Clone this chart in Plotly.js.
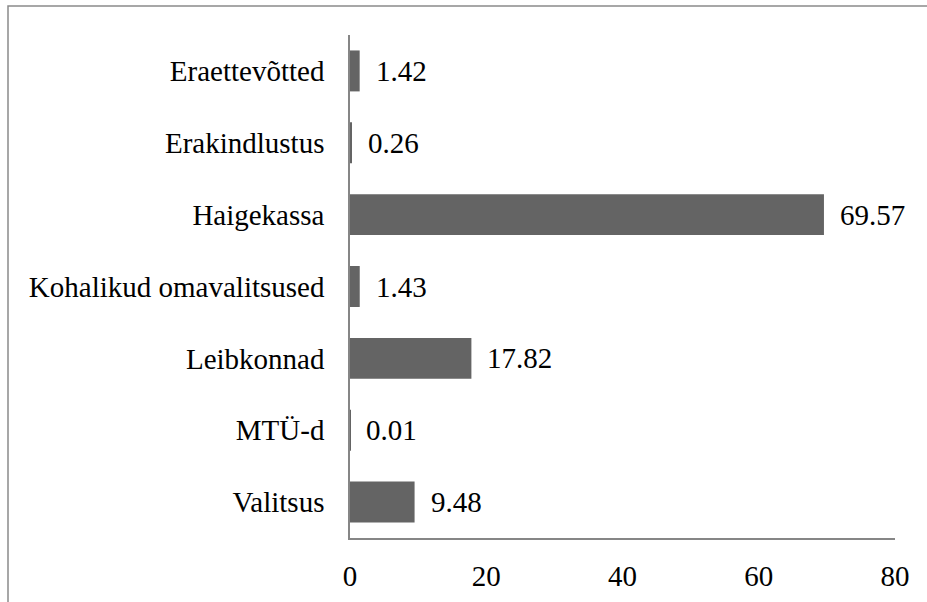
<!DOCTYPE html>
<html>
<head>
<meta charset="utf-8">
<script src="https://cdn.plot.ly/plotly-3.0.1.min.js"></script>
<style>
html,body{margin:0;padding:0;background:#fff;}
#chart text {
  font-family: "Liberation Serif", "Times New Roman", Tinos, serif !important;
}
</style>
</head>
<body>
<div id="chart"></div>
<script>
const categories = ["Eraettevõtted", "Erakindlustus", "Haigekassa", "Kohalikud omavalitsused", "Leibkonnad", "MTÜ-d", "Valitsus"];
const values = [1.42, 0.26, 69.57, 1.43, 17.82, 0.01, 9.48];
const tickVals = [0, 20, 40, 60, 80];
const tickText = ["0", "20", "40", "60", "80"];

const trace = {
  type: "bar",
  orientation: "h",
  x: values,
  y: categories,
  marker: {color: "#646464"},
  width: 0.57,
  hoverinfo: "none"
};

const annotations = values.map((v, i) => ({
  x: v, y: categories[i], xref: "x", yref: "y",
  text: v.toFixed(2), showarrow: false,
  xanchor: "left", yanchor: "middle", xshift: 14
}));

const layout = {
  width: 927, height: 602,
  margin: {l: 350, r: 32, t: 35, b: 64, pad: 0},
  font: {family: "Times New Roman", size: 29, color: "#000000"},
  showlegend: false,
  xaxis: {
    range: [0, 80], tickvals: tickVals, ticktext: tickText,
    showgrid: false, zeroline: false, showline: true,
    linecolor: "#868686", linewidth: 1.5, ticks: "",
    ticklabelstandoff: 11, fixedrange: true
  },
  yaxis: {
    type: "category", categoryorder: "array", categoryarray: categories,
    autorange: "reversed",
    showgrid: false, zeroline: false, showline: true,
    linecolor: "#868686", linewidth: 1.5, ticks: "",
    ticklabelstandoff: 18, fixedrange: true
  },
  annotations: annotations,
  shapes: [{
    type: "rect", xref: "paper", yref: "paper",
    x0: (8 - 350) / 545, x1: 1.2, y0: -0.3, y1: 1 + 29 / 503,
    line: {color: "#8a8a8a", width: 1.5}, layer: "below"
  }]
};

Plotly.newPlot("chart", [trace], layout, {displayModeBar: false});
if (document.fonts && document.fonts.load) {
  Promise.all([
    document.fonts.load('29px "Liberation Serif"'),
    document.fonts.load('29px "Times New Roman"')
  ]).then(() => Plotly.react("chart", [trace], layout, {displayModeBar: false}));
}
</script>
</body>
</html>
